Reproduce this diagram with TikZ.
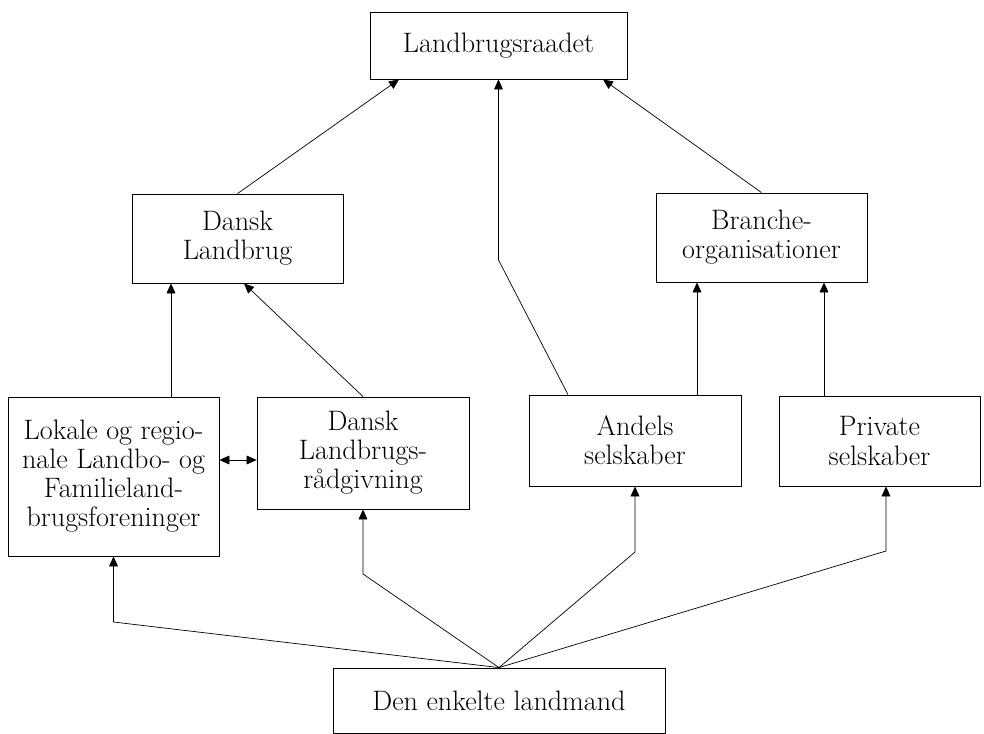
\documentclass[tikz,border=0pt]{standalone}
\usepackage{fontspec}
\usetikzlibrary{arrows.meta,calc}

\tikzset{
	orgbox/.style={draw, line width=0.7pt, align=center, inner sep=0pt,
		font=\fontsize{24}{24.8}\selectfont},
	arr/.style={-{Triangle[length=8.5pt,width=7.5pt]}, line width=0.6pt},
	darr/.style={{Triangle[length=8.5pt,width=7.5pt]}-{Triangle[length=8.5pt,width=7.5pt]}, line width=0.6pt}
}

\begin{document}
\begin{tikzpicture}[x=0.03cm,y=-0.03cm]
	\useasboundingbox (0,0) rectangle (984,734);

		% Organisations
		\node[orgbox, minimum width=7.71cm, minimum height=2.01cm] (LR) at (498.5,45.5) {Landbrugsraadet};
		\node[orgbox, minimum width=6.33cm, minimum height=2.67cm] (DL) at (237.5,238.5) {Dansk\\Landbrug};
		\node[orgbox, minimum width=6.33cm, minimum height=2.67cm] (BO) at (761.5,237.5) {Branche-\\organisationer};
		\node[orgbox, minimum width=6.33cm, minimum height=4.77cm] (LF) at (113.5,476.5) {Lokale og regio-\\nale Landbo- og\\Familieland-\\brugsforeninger};
		\node[orgbox, minimum width=6.36cm, minimum height=3.36cm] (DLR) at (363,453) {Dansk\\Landbrugs-\\rådgivning};
		\node[orgbox, minimum width=6.36cm, minimum height=2.73cm] (AS) at (635,440.5) {Andels\\selskaber};
		\node[orgbox, minimum width=6.03cm, minimum height=2.70cm] (PS) at (879.5,441) {Private\\selskaber};
		\node[orgbox, minimum width=9.96cm, minimum height=1.95cm] (EL) at (499,700.5) {Den enkelte landmand};

		% Upwards
		\draw [arr] (DL.north) to (LR.south -| 399,0);
		\draw [arr] (AS.north -| 568,0) -- (LR.south |- 0,260) -- (LR.south);
		\draw [arr] (BO.north) to (LR.south -| 603,0);
		\draw [arr] (LF.north -| 171,0) to (DL.south -| 171,0);
		\draw [arr] (DLR.north) to (DL.south -| 244,0);
		\draw [arr] (AS.north -| 697,0) to (BO.south -| 697,0);
		\draw [arr] (PS.north -| 824,0) to (BO.south -| 824,0);
		\draw [darr] (LF.east |- 0,460) to (DLR.west |- 0,460);

		% From the farmer
		\draw [arr] (EL.north) -- (LF.south |- 0,622) -- (LF.south);
		\draw [arr] (EL.north) -- (DLR.south |- 0,574) -- (DLR.south);
		\draw [arr] (EL.north) -- (AS.south |- 0,552) -- (AS.south);
		\draw [arr] (EL.north) -- (886,551) -- (PS.south -| 886,0);

\end{tikzpicture}
\end{document}
